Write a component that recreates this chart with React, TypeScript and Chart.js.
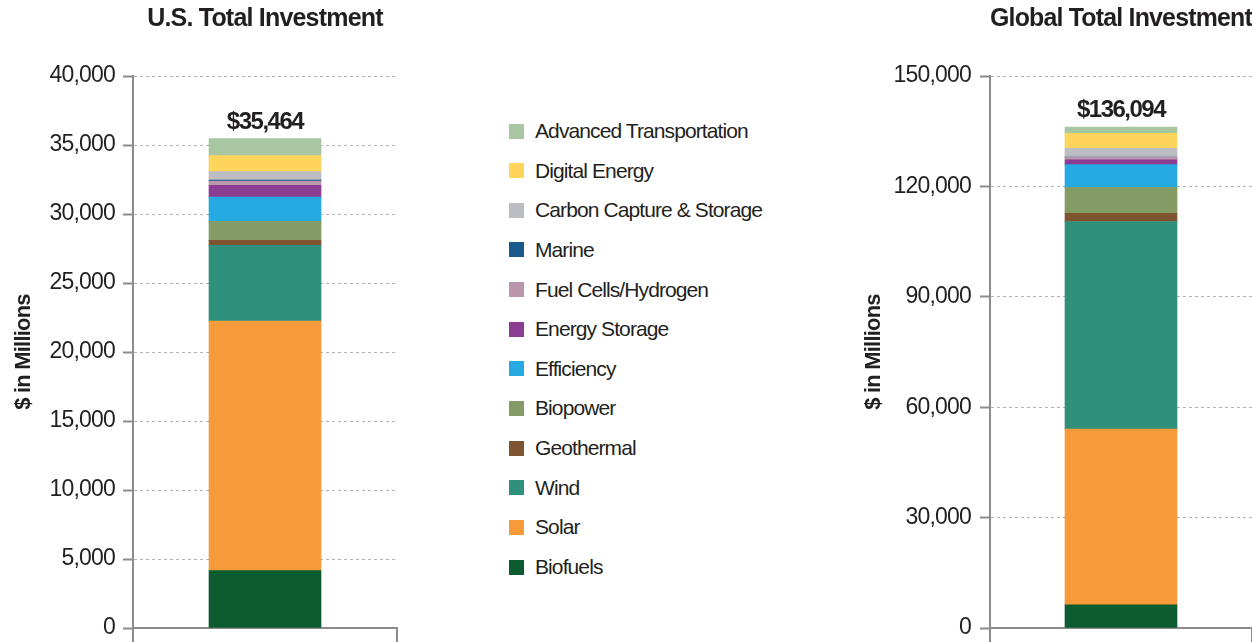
import React, { useEffect, useRef } from 'react';
import { Chart, registerables } from 'chart.js';

Chart.register(...registerables);

// ---- Data ----
const categories = [
  'Biofuels',
  'Solar',
  'Wind',
  'Geothermal',
  'Biopower',
  'Efficiency',
  'Energy Storage',
  'Fuel Cells/Hydrogen',
  'Marine',
  'Carbon Capture & Storage',
  'Digital Energy',
  'Advanced Transportation',
];

const colors = [
  '#0d5c2f',
  '#f79a3a',
  '#2f917b',
  '#7f5430',
  '#849b66',
  '#25aae1',
  '#8a3d92',
  '#b996ab',
  '#1b5a8c',
  '#bcbdc2',
  '#ffd45a',
  '#a8c6a1',
];

const usValues = [4160, 18075, 5495, 360, 1375, 1758, 846, 311, 72, 628, 1157, 1227];
const globalValues = [6300, 47750, 56400, 2250, 7050, 6150, 1350, 630, 100, 2340, 4070, 1704];

const usTitle = 'U.S. Total Investment';
const globalTitle = 'Global Total Investment';
const yAxisTitle = '$ in Millions';
const usMax = 40000;
const usStep = 5000;
const globalMax = 150000;
const globalStep = 30000;

const FONT = "'Liberation Sans', Arial, sans-serif";
const TEXT = '#231f20';
const AXIS = '#8c8c8c';

const spacingPlugin = {
  id: 'spacing',
  beforeUpdate(chart: any) {
    chart.ctx.letterSpacing = '-0.8px';
  },
  beforeLayout(chart: any) {
    chart.ctx.letterSpacing = '-0.8px';
  },
  beforeDraw(chart: any) {
    chart.ctx.letterSpacing = '-0.8px';
  },
};

const totalPlugin = {
  id: 'totalLabel',
  afterDatasetsDraw(chart: any) {
    const ctx = chart.ctx;
    const total = chart.data.datasets.reduce((s: number, d: any) => s + Number(d.data[0]), 0);
    const x = chart.scales.x.getPixelForValue(0);
    const y = chart.scales.y.getPixelForValue(total);
    ctx.save();
    ctx.letterSpacing = '-1.5px';
    ctx.font = `bold 24px ${FONT}`;
    ctx.fillStyle = TEXT;
    ctx.textAlign = 'center';
    ctx.textBaseline = 'alphabetic';
    ctx.fillText('$' + total.toLocaleString('en-US'), x, y - 10);
    ctx.restore();
  },
};

function makeConfig(
  title: string,
  values: number[],
  max: number,
  step: number,
  axisWidth: number,
  padRight: number,
  tickPad: number
): any {
  return {
    type: 'bar',
    data: {
      labels: [''],
      datasets: categories.map((c, i) => ({
        label: c,
        data: [values[i]],
        backgroundColor: colors[i],
        borderWidth: 0,
        barThickness: 112,
      })),
    },
    options: {
      responsive: false,
      maintainAspectRatio: false,
      animation: false,
      layout: { padding: { left: 10, right: padRight, top: 0, bottom: 0 } },
      plugins: {
        legend: { display: false },
        tooltip: { enabled: false },
        title: {
          display: true,
          text: title,
          fullSize: false,
          color: TEXT,
          font: { family: FONT, size: 25, weight: 'bold' },
          padding: { top: 4, bottom: 42 },
        },
      },
      scales: {
        x: {
          stacked: true,
          grid: {
            display: true,
            drawOnChartArea: false,
            drawTicks: true,
            tickLength: 14,
            offset: true,
            color: AXIS,
            lineWidth: 2,
          },
          border: { display: true, color: AXIS, width: 2 },
          ticks: { display: false },
        },
        y: {
          stacked: true,
          min: 0,
          max,
          afterFit: (s: any) => {
            s.width = axisWidth;
            s.paddingBottom = 0;
            s.paddingTop = 0;
          },
          ticks: {
            stepSize: step,
            padding: tickPad,
            color: TEXT,
            font: { family: FONT, size: 23 },
            callback: (v: any) => Number(v).toLocaleString('en-US'),
          },
          grid: {
            color: (c: any) => (c.tick && c.tick.value === 0 ? 'rgba(0,0,0,0)' : '#b3b3b3'),
            lineWidth: 1,
            drawTicks: true,
            tickLength: 10,
            tickColor: AXIS,
            tickWidth: 2,
          },
          border: { display: true, color: AXIS, width: 2, dash: [3, 3] },
          title: {
            display: true,
            text: yAxisTitle,
            color: TEXT,
            font: { family: FONT, size: 22, weight: 'bold' },
            padding: { top: 1, bottom: 0 },
          },
        },
      },
    },
    plugins: [spacingPlugin, totalPlugin],
  };
}

function BarChart(props: {
  title: string;
  values: number[];
  max: number;
  step: number;
  axisWidth: number;
  padRight: number;
  tickPad: number;
  width: number;
  left: number;
}) {
  const ref = useRef<HTMLCanvasElement>(null);
  useEffect(() => {
    if (!ref.current) return;
    const chart = new Chart(
      ref.current,
      makeConfig(props.title, props.values, props.max, props.step, props.axisWidth, props.padRight, props.tickPad)
    );
    return () => chart.destroy();
  }, []);
  return (
    <canvas
      ref={ref}
      width={props.width}
      height={642}
      style={{ position: 'absolute', left: props.left, top: 0, width: props.width, height: 642 }}
    />
  );
}

export default function App() {
  const legendItems = categories.map((c, i) => ({ label: c, color: colors[i] })).reverse();
  return (
    <div style={{ position: 'absolute', left: 0, top: 0, width: 1252, height: 642, background: '#fff', overflow: 'hidden' }}>
      <BarChart title={usTitle} values={usValues} max={usMax} step={usStep} axisWidth={123} padRight={23} tickPad={8} width={420} left={0} />
      <BarChart title={globalTitle} values={globalValues} max={globalMax} step={globalStep} axisWidth={130} padRight={0} tickPad={9} width={402} left={850} />
      {legendItems.map((item, i) => (
        <div
          key={item.label}
          style={{
            position: 'absolute',
            left: 509,
            top: 131 + i * 39.64 - 11,
            height: 22,
            display: 'flex',
            alignItems: 'center',
            fontFamily: FONT,
            fontSize: 21,
            lineHeight: '22px',
            letterSpacing: '-0.9px',
            color: TEXT,
            whiteSpace: 'nowrap',
          }}
        >
          <span style={{ display: 'inline-block', width: 15, height: 15, background: item.color, marginRight: 11 }} />
          <span>{item.label}</span>
        </div>
      ))}
    </div>
  );
}
